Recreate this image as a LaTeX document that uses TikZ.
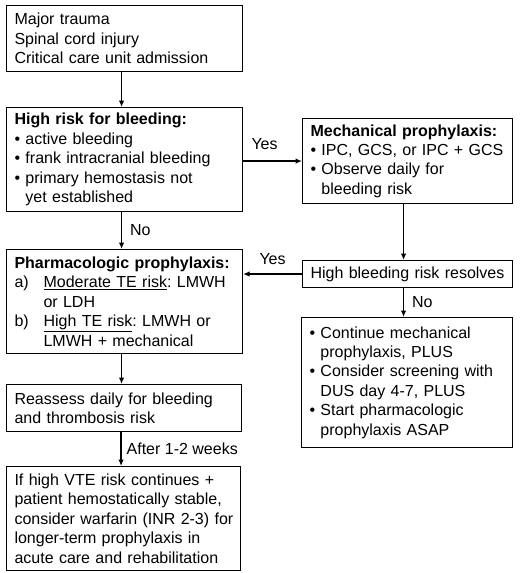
\documentclass[tikz,border=0pt]{standalone}
\usepackage{fontspec}
\setmainfont{Liberation Sans}
\usetikzlibrary{arrows.meta,calc}
\newcommand{\bulind}{\phantom{•~}}
\begin{document}
\frenchspacing
\begin{tikzpicture}[x=1pt,y=-1pt,
  box/.style={draw,line width=1.1pt,anchor=north west,inner xsep=8pt,inner ysep=0pt,
    align=left,font=\fontsize{16}{19.4}\selectfont\frenchspacing},
  arr/.style={line width=1.2pt,-{Latex[length=6.5pt,width=5.5pt]}},
  lbl/.style={font=\fontsize{16}{19.2}\selectfont,inner sep=0pt}]
\useasboundingbox (0,0) rectangle (520,573);
\fill[white] (0,0) rectangle (520,573);

\node[box,text width=220pt,minimum height=66pt] (b1) at (6,5)
  {Major trauma\\Spinal cord injury\\Critical care unit admission};
\node[box,text width=220pt,minimum height=104pt] (b2) at (6,107)
  {\textbf{High risk for bleeding:}\\• active bleeding\\• frank intracranial bleeding\\• primary hemostasis not\\\bulind yet established};
\node[box,text width=194pt,minimum height=85pt] (mech) at (302,118)
  {\textbf{Mechanical prophylaxis:}\\• IPC, GCS, or IPC + GCS\\• Observe daily for\\\bulind bleeding risk};
\node[box,text width=194pt,minimum height=27pt] (hb) at (302,260)
  {High bleeding risk resolves};
\node[box,text width=220pt,minimum height=104pt] (ph) at (6,249)
  {\textbf{Pharmacologic prophylaxis:}\\\makebox[29pt][l]{a)}\underline{Moderate TE risk}: LMWH\\\hspace*{29pt}or LDH\\\makebox[29pt][l]{b)}\underline{High TE risk}: LMWH or\\\hspace*{29pt}LMWH + mechanical};
\node[box,text width=219pt,minimum height=47pt] (re) at (6,384)
  {Reassess daily for bleeding\\and thrombosis risk};
\node[box,text width=218pt,minimum height=104pt] (last) at (6,466)
  {\mbox{If high VTE risk continues +}\\\mbox{patient hemostatically stable,}\\\mbox{consider warfarin (INR 2-3) for}\\\mbox{longer-term prophylaxis in}\\\mbox{acute care and rehabilitation}};
\node[box,text width=195pt,minimum height=130pt] (rb) at (301,317)
  {• Continue mechanical\\\bulind prophylaxis, PLUS\\• Consider screening with\\\bulind DUS day 4-7, PLUS\\• Start pharmacologic\\\bulind prophylaxis ASAP};

\draw[arr] ([xshift=-3pt]b1.south) -- ([xshift=-3pt]b1.south |- b2.north);
\draw[arr] (b2.east |- mech.west) -- node[lbl,above=11pt,xshift=-8pt]{Yes} (mech.west);
\draw[arr] ([xshift=-4pt]mech.south) -- ([xshift=-4pt]mech.south |- hb.north);
\draw[arr] (hb.west) -- node[lbl,above=9pt]{Yes} (hb.west -| ph.east);
\draw[arr] ([xshift=-3pt]b2.south) -- node[lbl,right=8pt]{No} ([xshift=-3pt]b2.south |- ph.north);
\draw[arr] ([xshift=-3pt]ph.south) -- ([xshift=-3pt]ph.south |- re.north);
\draw[arr] ([xshift=-3pt]re.south) -- node[lbl,right=5pt]{After 1-2 weeks} ([xshift=-3pt]re.south |- last.north);
\draw[arr] ([xshift=-4pt]hb.south) -- node[lbl,right=8pt]{No} ([xshift=-4pt]hb.south |- rb.north);
\end{tikzpicture}
\end{document}
